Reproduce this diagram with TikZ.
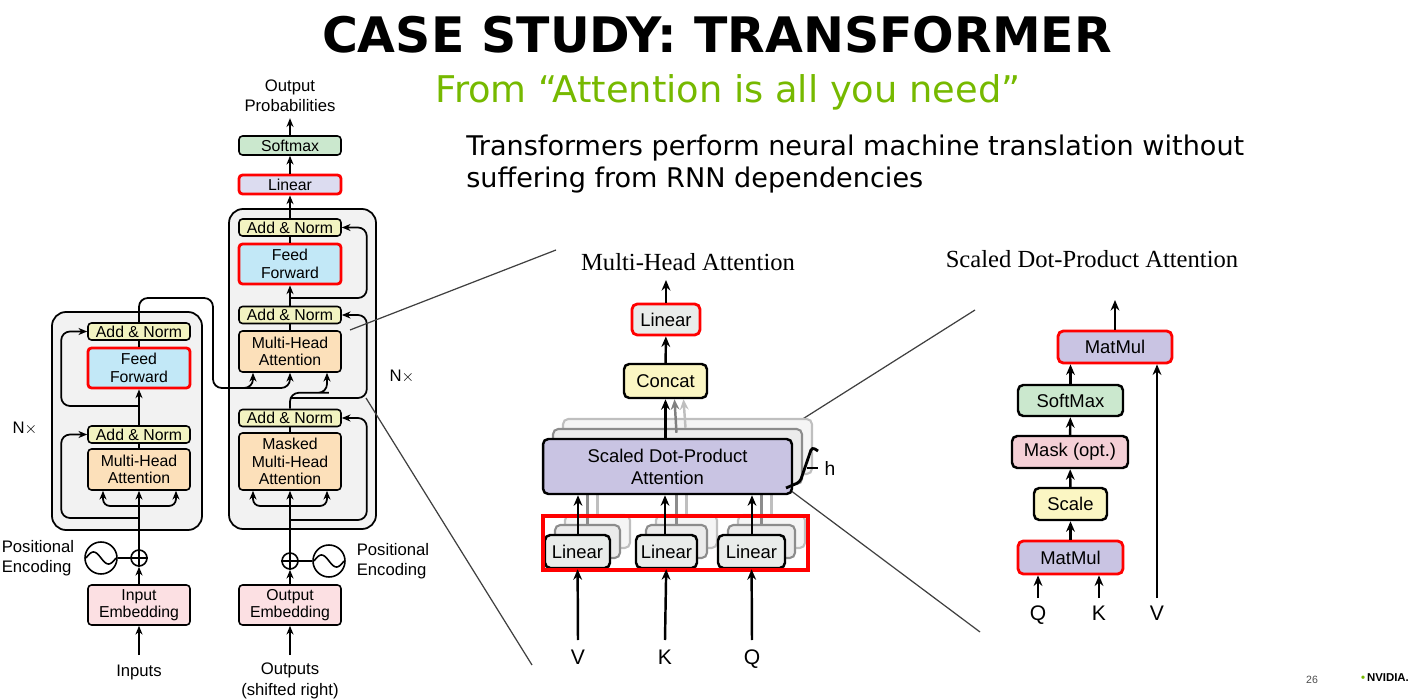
\documentclass[tikz,border=0pt]{standalone}
\usepackage{fontspec}
\setmainfont{Liberation Sans}
\newfontfamily\titlefont{DejaVu Sans}
\newfontfamily\headfont{Liberation Serif}
\usetikzlibrary{arrows.meta,calc}
\definecolor{nvgreen}{RGB}{118,185,0}
\definecolor{blockgray}{RGB}{242,242,242}
\definecolor{addcol}{RGB}{242,243,193}
\definecolor{ffcol}{RGB}{194,232,247}
\definecolor{mhacol}{RGB}{252,224,186}
\definecolor{embcol}{RGB}{252,224,227}
\definecolor{smcol}{RGB}{203,232,206}
\definecolor{lincol}{RGB}{220,220,240}
\definecolor{glin}{RGB}{233,236,234}
\definecolor{sdpcol}{RGB}{201,196,227}
\definecolor{maskcol}{RGB}{244,207,214}
\definecolor{scalecol}{RGB}{251,246,195}
\tikzset{
  blk/.style={draw, rounded corners=2pt, line width=0.9pt, minimum width=2.04cm,
    inner sep=0pt, align=center, font=\fontsize{9}{10}\selectfont},
  addn/.style={blk, fill=addcol, minimum height=0.34cm},
  ffw/.style={blk, fill=ffcol, minimum height=0.8cm},
  mha/.style={blk, fill=mhacol, minimum height=0.82cm},
  emb/.style={blk, fill=embcol, minimum height=0.8cm},
  hl/.style={draw=red, line width=1.6pt},
  arr/.style={-{Stealth[length=5pt,width=4pt]}, line width=1pt},
  res/.style={arr, rounded corners=5pt},
  rblk/.style={draw, rounded corners=3pt, line width=1.4pt, inner sep=0pt,
    font=\fontsize{10.5}{12.5}\selectfont, align=center},
  rarr/.style={-{Stealth[length=6pt,width=5pt]}, line width=1.4pt},
  zoomline/.style={draw=black!75, line width=0.7pt},
  lbl/.style={font=\fontsize{9.5}{11.5}\selectfont, align=center},
  head/.style={font=\headfont\fontsize{14}{16}\selectfont},
  inlbl/.style={font=\fontsize{12}{14}\selectfont, text height=1.6ex, text depth=0pt}
}
\begin{document}
\begin{tikzpicture}[x=0.02cm,y=-0.02cm]
\useasboundingbox (0,0) rectangle (1421,699);
% heading
\node (title) at (717,35) {\resizebox{15.8cm}{!}{\titlefont\bfseries CASE STUDY: TRANSFORMER}};
\node[text=nvgreen] (sub) at (728,92) {\resizebox{11.7cm}{!}{\titlefont From “Attention is all you need”}};
\node[anchor=north west, inner sep=0pt] (body) at (466,132) {\resizebox{15.56cm}{!}{\titlefont\begin{tabular}{@{}l@{}}Transformers perform neural machine translation without\\suffering from RNN dependencies\end{tabular}}};
% blocks
\draw[fill=blockgray, rounded corners=8pt, line width=1pt] (52,312) rectangle (202,530);
\draw[fill=blockgray, rounded corners=8pt, line width=1pt] (229,209) rectangle (376,529);
% encoder
\node[addn] (eAN2) at (139,331.5) {Add \& Norm};
\node[ffw,hl] (eFF) at (139,368) {Feed\\Forward};
\node[addn] (eAN1) at (139,434.5) {Add \& Norm};
\node[mha] (eMHA) at (139,469.5) {Multi-Head\\Attention};
\node[emb] (eEmb) at (139,605) {Input\\Embedding};
\node[circle, draw, line width=0.9pt, minimum size=0.32cm, inner sep=0pt] (ePlus) at (139,558) {};
\node[circle, draw, line width=0.9pt, minimum size=0.64cm, inner sep=0pt] (ePE) at (101,558) {};
\draw[line width=0.9pt] (ePlus.north) -- (ePlus.south) (ePlus.west) -- (ePlus.east);
\draw[line width=0.9pt, shift={(ePE.center)}] plot[domain=-15:15, samples=40, smooth] (\x,{6*sin(\x*12)});
\draw[line width=0.9pt] (ePE) -- (ePlus);
\node[lbl, align=left] (ePEtxt) at (38,558) {Positional\\Encoding};
\node[lbl] (inp) at (139,672) {Inputs};
\node[lbl] (eNx) at (25,428) {N$\times$};
\coordinate (eIn) at (139,655);
\draw[arr] (eIn) -- (eEmb);
\draw[arr] (eEmb) -- (ePlus);
\draw[arr] (ePlus) -- (eMHA);
\coordinate (eSplit) at (139,506);
\draw[arr, rounded corners=4pt] (eSplit) -| ($(eMHA.south)+(-36,0)$);
\draw[arr, rounded corners=4pt] (eSplit) -| ($(eMHA.south)+(37,0)$);
\coordinate (eRes1) at (139,518);
\draw[res] (eRes1) -| ($(eAN1.west)+(-26,0)$) -- (eAN1.west);
\coordinate (eRes2) at (139,406);
\draw[res] (eRes2) -| ($(eAN2.west)+(-26,0)$) -- (eAN2.west);
\draw[line width=1pt] (eMHA) -- (eAN1);
\draw[arr] (eAN1) -- (eFF);
\draw[line width=1pt] (eFF) -- (eAN2);
% decoder
\node[addn] (dAN3) at (290,227.5) {Add \& Norm};
\node[ffw,hl] (dFF) at (290,264) {Feed\\Forward};
\node[addn] (dAN2) at (290,315) {Add \& Norm};
\node[mha] (dMHA) at (290,351.5) {Multi-Head\\Attention};
\node[addn] (dAN1) at (290,418) {Add \& Norm};
\node[blk, fill=mhacol, minimum height=1.14cm] (dMMHA) at (290,461.5) {Masked\\Multi-Head\\Attention};
\node[emb] (dEmb) at (290,605) {Output\\Embedding};
\node[blk, fill=lincol, minimum height=0.38cm, hl] (dLin) at (290,184.5) {Linear};
\node[blk, fill=smcol, minimum height=0.38cm] (dSm) at (290,145.5) {Softmax};
\node[lbl] (outp) at (290,96) {Output\\Probabilities};
\node[circle, draw, line width=0.9pt, minimum size=0.32cm, inner sep=0pt] (dPlus) at (290,561) {};
\node[circle, draw, line width=0.9pt, minimum size=0.64cm, inner sep=0pt] (dPE) at (329,561) {};
\draw[line width=0.9pt] (dPlus.north) -- (dPlus.south) (dPlus.west) -- (dPlus.east);
\draw[line width=0.9pt, shift={(dPE.center)}] plot[domain=-15:15, samples=40, smooth] (\x,{6*sin(\x*12)});
\draw[line width=0.9pt] (dPE) -- (dPlus);
\node[lbl, align=left] (dPEtxt) at (393,561) {Positional\\Encoding};
\node[lbl] (outs) at (290,681) {Outputs\\(shifted right)};
\node[lbl] (dNx) at (402,376) {N$\times$};
\coordinate (dIn) at (290,655);
\draw[arr] (dIn) -- (dEmb);
\draw[arr] (dEmb) -- (dPlus);
\draw[arr] (dPlus) -- (dMMHA);
\coordinate (dSplit) at (290,506);
\draw[arr, rounded corners=4pt] (dSplit) -| ($(dMMHA.south)+(-37,0)$);
\draw[arr, rounded corners=4pt] (dSplit) -| ($(dMMHA.south)+(37,0)$);
\coordinate (dRes1) at (290,520);
\draw[res] (dRes1) -| ($(dAN1.east)+(25,0)$) -- (dAN1.east);
\draw[line width=1pt] (dMMHA) -- (dAN1);
\coordinate (dRes2) at (290,398);
\draw[res] (dRes2) -| ($(dAN2.east)+(25,0)$) -- (dAN2.east);
\draw[arr, rounded corners=5pt] (dAN1.north) |- ($(dMHA.south)+(30,20)$) -| ($(dMHA.south)+(37,0)$);
\coordinate (encOut) at (245,388);
\draw[arr, rounded corners=5pt] (eAN2.north) |- (213,298) |- (encOut) -| ($(dMHA.south)+(-37,0)$);
\draw[arr, rounded corners=5pt] (encOut) -| (dMHA.south);
\draw[line width=1pt] (dMHA) -- (dAN2);
\draw[arr] (dAN2) -- (dFF);
\draw[line width=1pt] (dFF) -- (dAN3);
\coordinate (dRes3) at (290,298);
\draw[res] (dRes3) -| ($(dAN3.east)+(25,0)$) -- (dAN3.east);
\draw[arr] (dAN3) -- (dLin);
\draw[arr] (dLin) -- (dSm);
\draw[arr] (dSm) -- (outp);
% zoom lines
\draw[zoomline] (350,330) -- (556,250);
\draw[zoomline] (366,398) -- (532,665);
\draw[zoomline] (790,427) -- (975,310);
\draw[zoomline] (790,490) -- (980,632);
% multi-head attention
\node[head] (mTitle) at (688,262) {Multi-Head Attention};
\draw[rounded corners=3pt, draw=black!25, fill=black!4, line width=1.2pt] (563,419) rectangle (812,474);
\draw[rounded corners=3pt, draw=black!45, fill=black!8, line width=1.2pt] (553,429) rectangle (802,484);
\foreach \cx/\w in {577.5/65, 666.5/61, 751.5/67}{
  \draw[rounded corners=3pt, draw=black!25, fill=black!4, line width=1.2pt] (\cx-\w/2+20,515) rectangle (\cx+\w/2+20,548);
  \draw[rounded corners=3pt, draw=black!45, fill=black!8, line width=1.2pt] (\cx-\w/2+10,525) rectangle (\cx+\w/2+10,558);
  \draw[black!45, line width=1.4pt] (\cx+10,525) -- (\cx+10,484);
  \draw[black!25, line width=1.4pt] (\cx+20,515) -- (\cx+20,474);
}
\node[rblk, fill=sdpcol, minimum width=4.98cm, minimum height=1.1cm] (mSDPA) at (667.5,466.5) {Scaled Dot-Product\\Attention};
\node[rblk, fill=glin, minimum width=1.3cm, minimum height=0.66cm] (lV) at (577.5,551.5) {Linear};
\node[rblk, fill=glin, minimum width=1.22cm, minimum height=0.66cm] (lK) at (666.5,551.5) {Linear};
\node[rblk, fill=glin, minimum width=1.34cm, minimum height=0.66cm] (lQ) at (751.5,551.5) {Linear};
\draw[red, line width=2pt] (543,516) rectangle (808,570);
\node[rblk, fill=scalecol, minimum width=1.66cm, minimum height=0.68cm] (mCat) at (665.5,381) {Concat};
\node[rblk, fill=glin, minimum width=1.36cm, minimum height=0.62cm, hl] (mLin) at (666,319.5) {Linear};
\foreach \n/\t/\cx in {lV/V/578, lK/K/665, lQ/Q/752}{
  \coordinate (in\t) at (\cx,640);
  \node[inlbl] (lab\t) at (\cx,657) {\t};
  \draw[rarr] (in\t) -- (\n);
  \draw[rarr] (\n.north -| in\t) -- (in\t |- mSDPA.south);
}
\draw[rarr, black!25] ($(mSDPA.north)+(18,-10)$) -- ($(mCat.south)+(18,0)$);
\draw[rarr, black!50] ($(mSDPA.north)+(9,-5)$) -- ($(mCat.south)+(9,0)$);
\draw[rarr] (mSDPA.north -| mCat) -- (mCat);
\draw[rarr] (mCat) -- (mLin);
\coordinate (mOut) at (666,280);
\draw[rarr] (mLin) -- (mOut);
\draw[line width=1.6pt, rounded corners=2pt] (786,488) -- (800,482) -- (812,447) -- (818,451);
\coordinate (hTip) at (807,468);
\node[font=\fontsize{11}{12}\selectfont] (hLab) at (830,468) {h};
\draw[line width=1pt] (hTip) -- (hLab);
% scaled dot-product attention
\node[head] (sTitle) at (1092,259) {Scaled Dot-Product Attention};
\node[rblk, fill=sdpcol, minimum width=2.28cm, minimum height=0.64cm, hl] (rMM2) at (1115,347) {MatMul};
\node[rblk, fill=smcol, minimum width=2.1cm, minimum height=0.62cm] (rSm) at (1070.5,400.5) {SoftMax};
\node[rblk, fill=maskcol, minimum width=2.32cm, minimum height=0.64cm] (rMask) at (1070,452) {Mask (opt.)};
\node[rblk, fill=scalecol, minimum width=1.46cm, minimum height=0.64cm] (rScale) at (1070.5,504) {Scale};
\node[rblk, fill=sdpcol, minimum width=2.1cm, minimum height=0.66cm, hl] (rMM1) at (1070.5,557.5) {MatMul};
\foreach \t/\cx in {Q/1038, K/1099, V/1157}{
  \coordinate (r\t) at (\cx,598);
  \node[inlbl] (rl\t) at (\cx,613) {\t};
}
\draw[rarr] (rQ) -- (rQ |- rMM1.south);
\draw[rarr] (rK) -- (rK |- rMM1.south);
\draw[rarr] (rV) -- (rV |- rMM2.south);
\draw[rarr] (rMM1) -- (rScale);
\draw[rarr] (rScale) -- (rMask);
\draw[rarr] (rMask) -- (rSm);
\draw[rarr] (rSm) -- (rSm |- rMM2.south);
\coordinate (rOut) at (1115,300);
\draw[rarr] (rMM2) -- (rOut);
% footer
\node[font=\fontsize{6}{7}\selectfont, text=black!70] (pg) at (1312,680) {26};
\node[font=\fontsize{6.5}{7}\selectfont\bfseries] (nv) at (1385,678) {\textcolor{nvgreen}{\textbullet}\,NVIDIA.};
\end{tikzpicture}
\end{document}
